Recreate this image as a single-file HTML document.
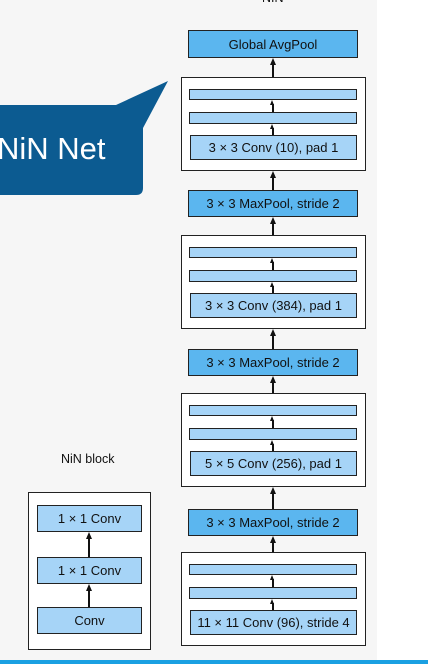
<!DOCTYPE html>
<html><head><style>
body{margin:0;width:428px;height:664px;overflow:hidden;background:#fff;font-family:"Liberation Sans",sans-serif;position:relative}
.bg{position:absolute;left:0;top:0;width:377px;height:661px;background:#f6f6f6}
.bar{position:absolute;left:0;top:660px;width:428px;height:4px;background:#1aa0e2}
.b{position:absolute;box-sizing:border-box;border:1.5px solid #222;display:flex;align-items:center;justify-content:center;font-size:13px;color:#111}
.d{background:#5bb6ef}
.l{background:#a6d4f7}
.o{background:#fff}
.v{position:absolute;width:1.5px;background:#111}
.h{position:absolute;width:0;height:0;border-left:3.5px solid transparent;border-right:3.5px solid transparent;border-bottom:7px solid #111}
.t{position:absolute;font-size:12.5px;color:#111}
</style></head><body>
<div class="bg"></div>
<div class="t" style="left:262px;top:-9px">NIN</div>
<svg style="position:absolute;left:0;top:0" width="428" height="664">
<path d="M0 105 H116 L168 81 L143 128 V188 Q143 195 136 195 H0 Z" fill="#0c5b91"/>
</svg>
<div style="position:absolute;left:-3px;top:131px;font-size:31px;color:#fff">NiN Net</div>

<div id="c"></div>
<script>
let h='';
const X1=188,X2=358;
function box(x1,y1,x2,y2,c,t){h+=`<div class="b ${c}" style="left:${x1}px;top:${y1}px;width:${x2-x1}px;height:${y2-y1}px">${t||''}</div>`}
function arr(x,y1,y2,small){h+=`<div class="v" style="left:${x-0.75}px;top:${y1+ (small?4:6)}px;height:${y2-y1-(small?4:6)}px"></div><div class="h" style="left:${x-3.5}px;top:${y1}px;${small?'border-bottom-width:5px;border-left-width:2.5px;border-right-width:2.5px;':''}"></div>`}
box(X1,30,X2,58,'d','Global AvgPool');
const blocks=[[77,'3 × 3 Conv (10), pad 1'],[235,'3 × 3 Conv (384), pad 1'],[393,'5 × 5 Conv (256), pad 1'],[552,'11 × 11 Conv (96), stride 4']];
const pools=[190,349,509];
blocks.forEach(([y,t],i)=>{
 box(181,y,366,y+94,'o');
 box(189,y+12,357,y+23,'l');
 box(189,y+35,357,y+47,'l');
 box(190,y+58,357,y+83,'l',t);
 arr(273,y+23,y+35,1);arr(273,y+47,y+58,1);
});
arr(273,58,77);
pools.forEach((p,i)=>{box(X1,p,X2,p+27,'d','3 × 3 MaxPool, stride 2');arr(273,blocks[i][0]+94,p);arr(273,p+27,blocks[i+1][0]);});
box(28,492,151,650,'o');
box(37,505,142,532,'l','1 × 1 Conv');
box(37,557,142,584,'l','1 × 1 Conv');
box(37,607,142,634,'l','Conv');
arr(89,532,557);arr(89,584,607);
h+='<div class="t" style="left:61px;top:452px">NiN block</div>';
document.getElementById('c').innerHTML=h;
</script>
<div class="bar"></div>
</body></html>
